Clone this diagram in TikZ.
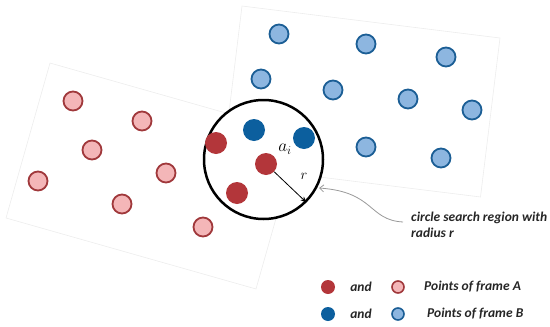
\documentclass[tikz,border=0pt]{standalone}
\usepackage{fontspec}
\setsansfont{Carlito}
\usetikzlibrary{arrows.meta}
\definecolor{darkred}{HTML}{B3363A}
\definecolor{lightred}{HTML}{F4B6B8}
\definecolor{redline}{HTML}{A0383B}
\definecolor{darkblue}{HTML}{0C5F9E}
\definecolor{lightblue}{HTML}{8DB6E0}
\definecolor{blueline}{HTML}{1B5E95}
\tikzset{
  framebox/.style={draw=black!7, fill=white, line width=0.6pt},
  lr/.style={circle, draw=redline, fill=lightred, line width=1.8pt, minimum size=19pt, inner sep=0pt},
  lb/.style={circle, draw=blueline, fill=lightblue, line width=1.8pt, minimum size=19pt, inner sep=0pt},
  dr/.style={circle, fill=darkred, minimum size=22pt, inner sep=0pt},
  db/.style={circle, fill=darkblue, minimum size=22pt, inner sep=0pt},
  lrs/.style={circle, draw=redline, fill=lightred, line width=1.6pt, minimum size=12pt, inner sep=0pt},
  lbs/.style={circle, draw=blueline, fill=lightblue, line width=1.6pt, minimum size=12pt, inner sep=0pt},
  drs/.style={circle, fill=darkred, minimum size=14pt, inner sep=0pt},
  dbs/.style={circle, fill=darkblue, minimum size=14pt, inner sep=0pt},
  lbl/.style={font=\fontsize{13.5}{16}\selectfont\sffamily\bfseries\itshape, text=black!85, inner sep=0pt},
}
\begin{document}
\begin{tikzpicture}[x=1pt,y=-1pt]
\useasboundingbox (0,0) rectangle (550,327);
% frames
\draw[framebox] (50,63) -- (300,134) -- (256,289) -- (6,218) -- cycle;
\draw[framebox] (242,6) -- (500,38) -- (480.5,197) -- (222.5,165) -- cycle;
% frame A points
\node[lr] (a1) at (73,101) {};
\node[lr] (a2) at (142,121) {};
\node[lr] (a3) at (92,150) {};
\node[lr] (a4) at (38,181) {};
\node[lr] (a5) at (166,173) {};
\node[lr] (a6) at (122,204) {};
\node[lr] (a7) at (203,227) {};
% frame B points
\node[lb] (b1) at (279,34) {};
\node[lb] (b2) at (366,44) {};
\node[lb] (b3) at (446,57) {};
\node[lb] (b4) at (261,79) {};
\node[lb] (b5) at (333,90) {};
\node[lb] (b6) at (408,99) {};
\node[lb] (b7) at (472,110) {};
\node[lb] (b8) at (366,147) {};
\node[lb] (b9) at (441,158) {};
% search circle
\node[circle, draw=black, fill=white, line width=2.5pt, minimum size=119pt, inner sep=0pt] (C) at (263.5,159.5) {};
\node[dr] (r1) at (216,143) {};
\node[dr] (ai) at (266,164) {};
\node[dr] (r3) at (237,193) {};
\node[db] (d1) at (254,130) {};
\node[db] (d2) at (304,138) {};
\node[font=\fontsize{17}{17}\selectfont, inner sep=0pt] (ail) at (285,149) {$a_i$};
\node[font=\fontsize{15}{15}\selectfont, inner sep=0pt] (rl) at (304,176) {$r$};
\draw[-{Stealth[length=6pt,width=5pt]}, line width=0.8pt] (ai) -- (C.-45);
% annotation
\node[lbl, anchor=west, align=left] (note) at (411,225) {circle search region with\\radius r};
\coordinate (ns) at (403,222);
\draw[black!40, line width=0.8pt, -{Straight Barb[length=4pt,width=7pt]}] (ns) .. controls (368,220) and (375,192) .. ([xshift=2pt]C.-28);
% legend
\node[drs] (k1) at (328,287) {};
\node[lbl] (k1a) at (361,287) {and};
\node[lrs] (k2) at (398,287) {};
\node[lbl, anchor=west] (k2t) at (424,287) {Points of frame A};
\node[dbs] (k3) at (328,314) {};
\node[lbl] (k3a) at (361,314) {and};
\node[lbs] (k4) at (398,314) {};
\node[lbl, anchor=west] (k4t) at (427,314) {Points of frame B};
\end{tikzpicture}
\end{document}
